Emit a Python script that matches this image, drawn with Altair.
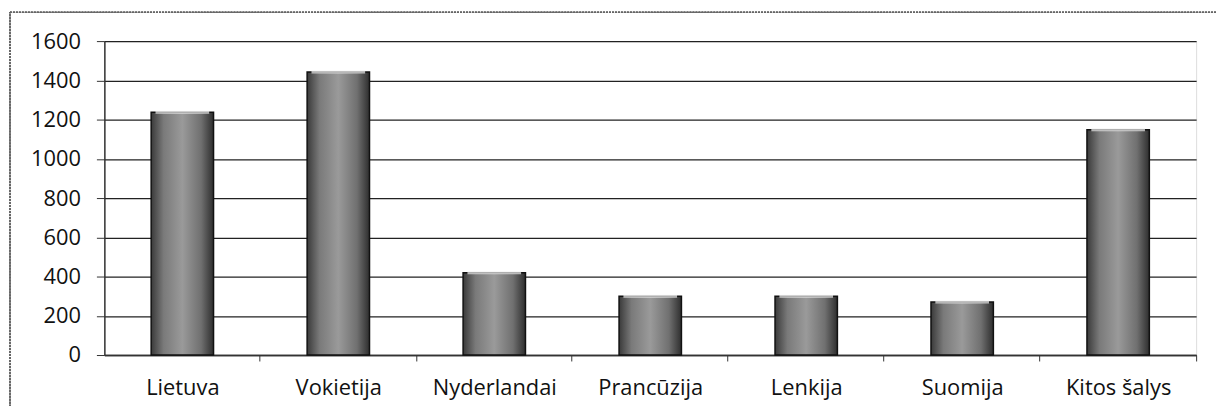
import altair as alt
import pandas as pd

countries = ["Lietuva", "Vokietija", "Nyderlandai", "Prancūzija", "Lenkija", "Suomija", "Kitos šalys"]
values = [1237, 1443, 419, 300, 300, 270, 1148]
y_ticks = [0, 200, 400, 600, 800, 1000, 1200, 1400, 1600]

df = pd.DataFrame({"country": countries, "value": values})

FONT = "Open Sans"

grad = alt.Gradient(
    gradient="linear",
    x1=0, x2=1, y1=0, y2=0,
    stops=[
        alt.GradientStop(color="#3a3a3a", offset=0),
        alt.GradientStop(color="#7a7a7a", offset=0.2),
        alt.GradientStop(color="#9a9a9a", offset=0.5),
        alt.GradientStop(color="#707070", offset=0.8),
        alt.GradientStop(color="#2e2e2e", offset=1),
    ],
)

x_scale = alt.Scale(paddingInner=0.6, paddingOuter=0.3)
y_scale = alt.Scale(domain=[0, 1600], nice=False)

x_axis = alt.Axis(
    labelAngle=0,
    labelFont=FONT,
    labelFontSize=22,
    labelColor="#111111",
    labelPadding=17,
    tickOffset=78,
    labelOffset=-78,
    tickSize=6,
    tickColor="#333333",
    domainColor="#333333",
    domainWidth=1.5,
    grid=False,
)

y_axis = alt.Axis(
    values=y_ticks,
    tickCount=9,
    format="d",
    labelOverlap=False,
    labelFont=FONT,
    labelFontSize=22,
    labelColor="#111111",
    labelPadding=16,
    tickSize=8,
    tickColor="#333333",
    domainColor="#333333",
    domainWidth=1.5,
    gridColor="#222222",
    gridWidth=1.3,
)

x_enc = alt.X("country:N", sort=countries, title=None, scale=x_scale, axis=x_axis)
y_enc = alt.Y("value:Q", title=None, scale=y_scale, axis=y_axis)

bars = alt.Chart(df).mark_bar(
    fill=grad,
    stroke="#111111",
    strokeWidth=1.5,
).encode(x=x_enc, y=y_enc)

tops = alt.Chart(df).mark_tick(
    color="#f2f2f2",
    thickness=3,
    size=54,
).encode(x=x_enc, y=y_enc)

frame = alt.Chart(df).mark_rect(
    fill=None, stroke="#666666", strokeWidth=1, strokeDash=[2, 1]
).encode(
    x=alt.value(-95), x2=alt.value(1400), y=alt.value(-29), y2=alt.value(500)
)

chart = alt.layer(frame, bars, tops).properties(
    width=1099,
    height=316,
    autosize=alt.AutoSizeParams(type="none"),
    padding={"left": 97, "top": 32, "right": 20, "bottom": 50},
).configure_view(stroke=None).configure(background="white")

chart.save("out.html", embed_options={"renderer": "svg", "actions": False})
